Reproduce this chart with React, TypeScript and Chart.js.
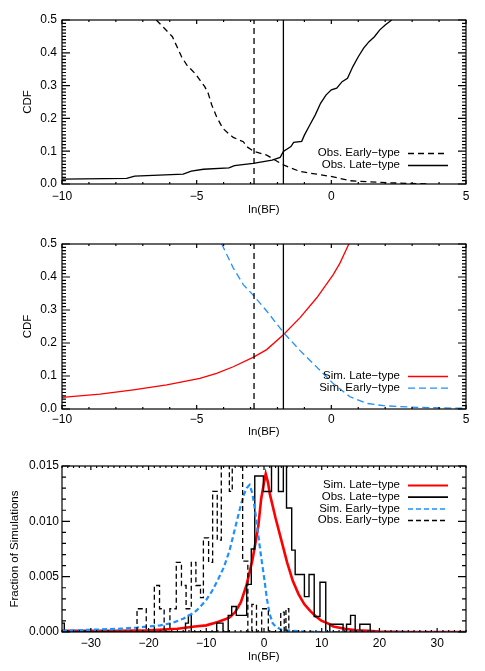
import React, { useEffect, useRef } from "react";
import { Chart, registerables } from "chart.js";

Chart.register(...registerables);

const FONT = '"Liberation Sans", Arial, Helvetica, sans-serif';

// ---------- Panel 1: observed CDFs ----------
const OBS_LATE_CDF_X = [-10, -7.6, -7.3, -5.5, -5.2, -4.75, -3.8, -3.6, -2.9, -2.2, -1.9, -1.78, -1.5, -1.4, -1.1, -1.0, -0.8, -0.6, -0.4, -0.2, 0.0, 0.2, 0.4, 0.6, 0.8, 1.0, 1.2, 1.4, 1.6, 1.8, 2.0, 2.24];
const OBS_LATE_CDF_Y = [0.015, 0.017, 0.024, 0.030, 0.039, 0.045, 0.049, 0.056, 0.063, 0.073, 0.081, 0.099, 0.114, 0.127, 0.130, 0.149, 0.180, 0.210, 0.246, 0.271, 0.287, 0.292, 0.312, 0.322, 0.358, 0.388, 0.414, 0.434, 0.449, 0.470, 0.485, 0.500];
const OBS_EARLY_CDF_X = [-6.5, -6.2, -5.9, -5.56, -5.37, -5.06, -4.7, -4.57, -4.44, -4.26, -4.03, -3.82, -3.64, -3.27, -3.14, -2.87, -2.4, -1.78, -1.16, -0.54, 0.07, 0.69, 1.31, 2.05, 3.17, 3.6];
const OBS_EARLY_CDF_Y = [0.500, 0.475, 0.449, 0.388, 0.363, 0.337, 0.297, 0.276, 0.241, 0.205, 0.170, 0.154, 0.142, 0.129, 0.114, 0.099, 0.088, 0.058, 0.038, 0.030, 0.022, 0.010, 0.007, 0.004, 0.001, 0.0];

// ---------- Panel 2: simulated CDFs ----------
const SIM_LATE_CDF_X = [-10, -8.59, -7.35, -6.11, -4.88, -4.26, -3.64, -2.87, -2.4, -1.78, -1.16, -0.54, 0.07, 0.32, 0.65];
const SIM_LATE_CDF_Y = [0.035, 0.045, 0.058, 0.073, 0.093, 0.108, 0.128, 0.158, 0.180, 0.225, 0.277, 0.337, 0.407, 0.442, 0.500];
const SIM_EARLY_CDF_X = [-4.07, -3.64, -3.27, -2.87, -2.4, -1.78, -1.16, -0.54, 0.07, 0.69, 1.31, 1.93, 3.17, 5.0];
const SIM_EARLY_CDF_Y = [0.500, 0.427, 0.377, 0.342, 0.297, 0.232, 0.177, 0.127, 0.077, 0.037, 0.017, 0.010, 0.005, 0.002];

// Thresholds (vertical lines)
const EARLY_THRESHOLD = -2.87;
const LATE_THRESHOLD = -1.78;

// ---------- Panel 3: distributions ----------
const SIM_LATE_X = [-35, -30, -25, -20, -15, -12, -10, -8, -6, -5, -4, -3, -2, -1, -0.5, 0, 0.3, 0.7, 1, 2, 3, 4, 5, 6, 7, 8, 9, 10, 11, 12, 14, 16, 18, 20, 25, 35];
const SIM_LATE_Y = [0.0001, 0.0001, 0.0001, 0.00015, 0.0003, 0.0005, 0.0006, 0.0009, 0.0013, 0.0018, 0.0027, 0.0043, 0.0065, 0.0095, 0.0120, 0.0135, 0.0143, 0.0135, 0.0125, 0.0103, 0.0083, 0.0063, 0.0046, 0.0034, 0.0025, 0.0019, 0.0014, 0.0010, 0.0008, 0.0005, 0.0003, 0.00015, 0.0001, 0.00005, 0, 0];
const SIM_EARLY_X = [-35, -30, -25, -22, -20, -18, -16, -14, -12, -11, -10, -9, -8, -7, -6, -5, -4, -3.5, -3, -2.5, -2, -1.5, -1, -0.5, 0, 0.5, 1, 1.5, 2, 3, 5, 8, 10, 35];
const SIM_EARLY_Y = [0.0001, 0.0002, 0.0003, 0.0004, 0.0005, 0.0006, 0.0008, 0.0012, 0.0018, 0.0023, 0.0029, 0.0037, 0.0047, 0.0058, 0.0073, 0.0094, 0.0115, 0.0124, 0.0130, 0.0133, 0.0125, 0.0108, 0.0088, 0.0068, 0.0050, 0.0030, 0.0016, 0.0008, 0.0005, 0.0002, 0.0001, 0.00003, 0, 0];
// observed histograms: value holds from edge[i] to edge[i+1]
const OBS_LATE_EDGES = [-35.5, -35.5, -34.6, -13.6, -13.1, -12.6, -8.2, -7.1, -6.2, -5.6, -4.8, -3.0, -2.2, -1.6, -0.1, 1.3, 2.5, 3.35, 3.9, 4.8, 5.4, 7.0, 7.8, 8.7, 9.7, 10.7, 11.4, 13.7, 14.3, 15.0, 15.8, 16.6, 18.4];
const OBS_LATE_FRAC = [0, 0.0008, 0, 0.0008, 0.0015, 0, 0.0008, 0, 0.0015, 0.0023, 0.0015, 0.0043, 0.0075, 0.0141, 0.0127, 0.0160, 0.0127, 0.0160, 0.0112, 0.0074, 0.0052, 0.0032, 0.0052, 0.0014, 0.0045, 0, 0.0007, 0, 0.0007, 0.0015, 0, 0.0007, 0];
const OBS_EARLY_EDGES = [-22.0, -22.0, -20.4, -19.0, -18.1, -17.3, -16.3, -15.2, -14.3, -13.5, -12.6, -11.8, -11.0, -10.5, -9.6, -8.9, -8.1, -7.4, -6.0, -5.5, -4.3, -3.7, -2.8, -2.1, -1.3, -0.4, 0.75, 2.9, 3.5, 3.8, 4.3];
const OBS_EARLY_FRAC = [0, 0.0021, 0, 0.0042, 0.0021, 0, 0.0021, 0.0063, 0.0042, 0.0021, 0.0063, 0.0042, 0.0031, 0.0085, 0.0063, 0.0127, 0.0083, 0.0160, 0.0127, 0.0160, 0.0150, 0.0064, 0, 0.0025, 0, 0.0021, 0, 0.0018, 0, 0.0021, 0];

// Axis ticks
const CDF_X_TICKS = [-10, -5, 0, 5];
const CDF_Y_TICKS = [0, 0.1, 0.2, 0.3, 0.4, 0.5];
const HIST_X_TICKS = [-30, -20, -10, 0, 10, 20, 30];
const HIST_Y_TICKS = [0, 0.005, 0.01, 0.015];

const RED = "#ff0000";
const BLUE = "#1e90ff";
const BLACK = "#000000";

type Series = {
  label: string;
  xs: number[];
  ys: number[];
  color: string;
  width: number;
  dash: number[];
  stepped?: boolean;
  legendWidth?: number;
};

type Panel = {
  top: number;
  height: number;
  chartTop: number;
  chartBottom: number;
  xMin: number;
  xMax: number;
  yMin: number;
  yMax: number;
  xTicks: number[];
  yTicks: number[];
  xMinor: number;
  yMinor: number;
  yDigits: number;
  yTitle: string;
  yTitlePad: number;
  xTickPad: number;
  yTickPad: number;
  xTitlePad: number;
  series: Series[];
  legendItems: Series[];
  legendY: number;
  legendDy: number;
};

const fmtX = (v: number) => (v < 0 ? "\u2212" + Math.abs(v) : String(v));

const vline = (x: number, dash: number[]): Series => ({
  label: "", xs: [x, x], ys: [0, 0.5], color: BLACK, width: 1.3, dash,
});

const obsEarlyCdf: Series = { label: "Obs. Early\u2212type", xs: OBS_EARLY_CDF_X, ys: OBS_EARLY_CDF_Y, color: BLACK, width: 1.3, dash: [6, 4] };
const obsLateCdf: Series = { label: "Obs. Late\u2212type", xs: OBS_LATE_CDF_X, ys: OBS_LATE_CDF_Y, color: BLACK, width: 1.3, dash: [] };
const simLateCdf: Series = { label: "Sim. Late\u2212type", xs: SIM_LATE_CDF_X, ys: SIM_LATE_CDF_Y, color: RED, width: 1.3, dash: [] };
const simEarlyCdf: Series = { label: "Sim. Early\u2212type", xs: SIM_EARLY_CDF_X, ys: SIM_EARLY_CDF_Y, color: BLUE, width: 1.3, dash: [7, 4] };

const simLateH: Series = { label: "Sim. Late\u2212type", xs: SIM_LATE_X, ys: SIM_LATE_Y, color: RED, width: 2.6, dash: [], legendWidth: 1.8 };
const obsLateH: Series = { label: "Obs. Late\u2212type", xs: OBS_LATE_EDGES, ys: OBS_LATE_FRAC, color: BLACK, width: 1.4, dash: [], stepped: true, legendWidth: 1.8 };
const simEarlyH: Series = { label: "Sim. Early\u2212type", xs: SIM_EARLY_X, ys: SIM_EARLY_Y, color: BLUE, width: 2.2, dash: [5, 3], legendWidth: 1.5 };
const obsEarlyH: Series = { label: "Obs. Early\u2212type", xs: OBS_EARLY_EDGES, ys: OBS_EARLY_FRAC, color: BLACK, width: 1.3, dash: [5, 3], stepped: true, legendWidth: 1.5 };

const PANELS: Panel[] = [
  {
    top: 0, height: 220, chartTop: 20, chartBottom: 184,
    xMin: -10, xMax: 5, yMin: 0, yMax: 0.5,
    xTicks: CDF_X_TICKS, yTicks: CDF_Y_TICKS, xMinor: 1, yMinor: 0.01, yDigits: 1,
    yTitle: "CDF", yTitlePad: 21, xTickPad: 5, yTickPad: 5, xTitlePad: 3,
    series: [obsEarlyCdf, obsLateCdf, vline(EARLY_THRESHOLD, [6, 4]), vline(LATE_THRESHOLD, [])],
    legendItems: [obsEarlyCdf, obsLateCdf], legendY: 153, legendDy: 12,
  },
  {
    top: 222, height: 222, chartTop: 22, chartBottom: 187,
    xMin: -10, xMax: 5, yMin: 0, yMax: 0.5,
    xTicks: CDF_X_TICKS, yTicks: CDF_Y_TICKS, xMinor: 1, yMinor: 0.01, yDigits: 1,
    yTitle: "CDF", yTitlePad: 21, xTickPad: 3, yTickPad: 5, xTitlePad: 5,
    series: [simLateCdf, simEarlyCdf, vline(EARLY_THRESHOLD, [6, 4]), vline(LATE_THRESHOLD, [])],
    legendItems: [simLateCdf, simEarlyCdf], legendY: 154, legendDy: 11.7,
  },
  {
    top: 444, height: 227, chartTop: 22, chartBottom: 188,
    xMin: -35, xMax: 35, yMin: 0, yMax: 0.015,
    xTicks: HIST_X_TICKS, yTicks: HIST_Y_TICKS, xMinor: 1, yMinor: 0.001, yDigits: 3,
    yTitle: "Fraction of Simulations", yTitlePad: 8, xTickPad: 4, yTickPad: 3, xTitlePad: 7,
    series: [simLateH, obsLateH, simEarlyH, obsEarlyH],
    legendItems: [simLateH, obsLateH, simEarlyH, obsEarlyH], legendY: 41, legendDy: 11.7,
  },
];

function minorValues(min: number, max: number, step: number): number[] {
  const out: number[] = [];
  const n = Math.round((max - min) / step);
  const start = Math.ceil(min / step - 1e-6);
  for (let i = 0; i <= n + 1; i++) {
    const v = (start + i) * step;
    if (v <= max + step * 1e-6) out.push(v);
  }
  return out;
}

function buildConfig(p: Panel, idx: number): any {
  const datasets = [...p.series].reverse().map((s) => ({
    label: s.label,
    data: s.xs.map((x, i) => ({ x, y: s.ys[i] })),
    borderColor: s.color,
    backgroundColor: s.color,
    borderWidth: s.width,
    borderDash: s.dash,
    pointRadius: 0,
    fill: false,
    tension: 0,
    stepped: s.stepped ? "before" : false,
    clip: 0,
  }));

  const decor = {
    id: "decor" + idx,
    afterDraw(chart: any) {
      const ctx = chart.ctx;
      const area = chart.chartArea;
      const left = area.left, right = area.right, top = area.top, bottom = area.bottom;
      const xScale = chart.scales.x;
      const yScale = chart.scales.y;
      ctx.save();
      ctx.setLineDash([]);
      ctx.strokeStyle = "#000";
      ctx.lineWidth = 1.2;
      ctx.beginPath();
      const xv = minorValues(p.xMin, p.xMax, p.xMinor);
      for (let i = 0; i < xv.length; i++) {
        const v = xv[i];
        const major = p.xTicks.some((t) => Math.abs(t - v) < 1e-6);
        const len = major ? 4 : 2;
        const px = xScale.getPixelForValue(v);
        ctx.moveTo(px, bottom);
        ctx.lineTo(px, bottom - len);
        ctx.moveTo(px, top);
        ctx.lineTo(px, top + len);
      }
      const yv = minorValues(p.yMin, p.yMax, p.yMinor);
      for (let i = 0; i < yv.length; i++) {
        const v = yv[i];
        const major = p.yTicks.some((t) => Math.abs(t - v) < 1e-6);
        const len = major ? 8 : 4;
        const py = yScale.getPixelForValue(v);
        ctx.moveTo(left, py);
        ctx.lineTo(left + len, py);
        ctx.moveTo(right, py);
        ctx.lineTo(right - len, py);
      }
      ctx.stroke();
      ctx.strokeRect(left, top, right - left, bottom - top);
      ctx.font = `11.5px ${FONT}`;
      ctx.textAlign = "right";
      ctx.textBaseline = "middle";
      p.legendItems.forEach((s, i) => {
        const yy = p.legendY + i * p.legendDy;
        ctx.fillStyle = "#000";
        ctx.fillText(s.label, 400, yy);
        ctx.beginPath();
        ctx.setLineDash(s.dash);
        ctx.lineWidth = s.legendWidth ?? s.width;
        ctx.strokeStyle = s.color;
        ctx.moveTo(408, yy + 0.5);
        ctx.lineTo(448, yy + 0.5);
        ctx.stroke();
      });
      ctx.restore();
    },
  };

  return {
    type: "line",
    data: { datasets },
    options: {
      responsive: false,
      maintainAspectRatio: false,
      animation: false,
      devicePixelRatio: 1,
      events: [],
      layout: { padding: { top: p.chartTop, right: 19, left: 0, bottom: 0 } },
      plugins: { legend: { display: false }, tooltip: { enabled: false } },
      scales: {
        x: {
          type: "linear",
          min: p.xMin,
          max: p.xMax,
          grid: { display: false, drawTicks: false },
          border: { display: false },
          afterBuildTicks: (s: any) => {
            s.ticks = p.xTicks.map((v) => ({ value: v }));
          },
          afterFit: (s: any) => {
            s.height = p.height - p.chartBottom;
          },
          ticks: {
            autoSkip: false,
            maxRotation: 0,
            padding: p.xTickPad,
            color: "#000",
            font: { family: FONT, size: 12 },
            callback: (v: any) => fmtX(Number(v)),
          },
          title: {
            display: true,
            text: "ln(BF)",
            color: "#000",
            font: { family: FONT, size: 11.5 },
            padding: { top: 0, bottom: p.xTitlePad },
          },
        },
        y: {
          type: "linear",
          min: p.yMin,
          max: p.yMax,
          grid: { display: false, drawTicks: false },
          border: { display: false },
          afterBuildTicks: (s: any) => {
            s.ticks = p.yTicks.map((v) => ({ value: v }));
          },
          afterFit: (s: any) => {
            s.width = 62;
          },
          ticks: {
            autoSkip: false,
            padding: p.yTickPad,
            color: "#000",
            font: { family: FONT, size: 12 },
            callback: (v: any) => Number(v).toFixed(p.yDigits),
          },
          title: {
            display: true,
            text: p.yTitle,
            color: "#000",
            font: { family: FONT, size: 11.5 },
            padding: { top: p.yTitlePad, bottom: 0 },
          },
        },
      },
    },
    plugins: [decor],
  };
}

function PanelChart({ p, idx }: { p: Panel; idx: number }) {
  const ref = useRef<HTMLCanvasElement | null>(null);
  useEffect(() => {
    if (!ref.current) return;
    const chart = new Chart(ref.current, buildConfig(p, idx));
    return () => chart.destroy();
  }, [p, idx]);
  return (
    <canvas
      ref={ref}
      width={485}
      height={p.height}
      style={{ position: "absolute", left: 0, top: p.top, width: 485, height: p.height, display: "block" }}
    />
  );
}

export default function App() {
  return (
    <div style={{ position: "absolute", left: 0, top: 0, width: 485, height: 671, background: "#fff", overflow: "hidden" }}>
      {PANELS.map((p, i) => (
        <PanelChart key={i} p={p} idx={i} />
      ))}
    </div>
  );
}
